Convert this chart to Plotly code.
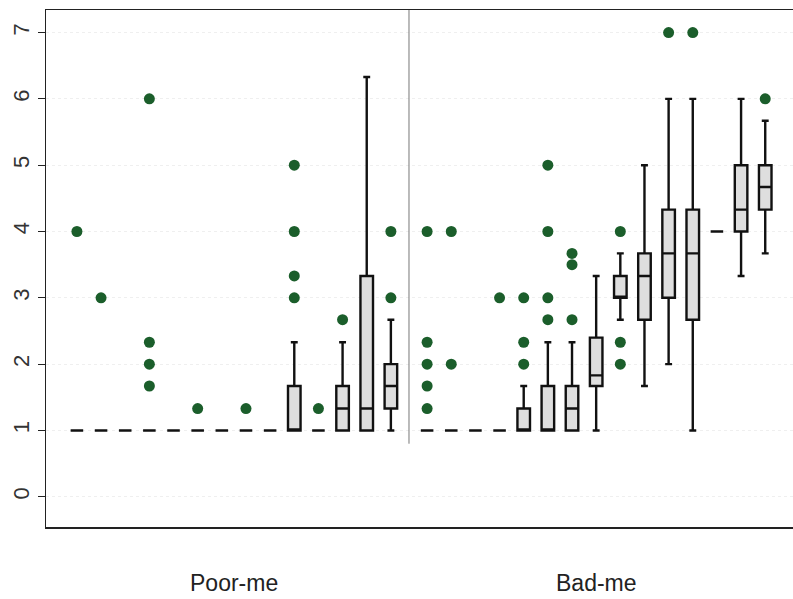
import plotly.graph_objects as go

# ---- data -------------------------------------------------------------
group_labels = ["Poor-me", "Bad-me"]

poor_pos = [1, 2, 3, 4, 5, 6, 7, 8, 9, 10, 11, 12, 13, 14]
poor_q1 = [1, 1, 1, 1, 1, 1, 1, 1, 1, 1, 1, 1, 1, 1.33]
poor_med = [1, 1, 1, 1, 1, 1, 1, 1, 1, 1, 1, 1.33, 1.33, 1.67]
poor_q3 = [1, 1, 1, 1, 1, 1, 1, 1, 1, 1.67, 1, 1.67, 3.33, 2]
poor_lo = [1, 1, 1, 1, 1, 1, 1, 1, 1, 1, 1, 1, 1, 1]
poor_hi = [1, 1, 1, 1, 1, 1, 1, 1, 1, 2.33, 1, 2.33, 6.33, 2.67]
poor_out = [[4], [3], [], [6, 2.33, 2, 1.67], [], [1.33], [], [1.33], [],
            [5, 4, 3.33, 3], [1.33], [2.67], [], [4, 3]]

bad_pos = [15.5, 16.5, 17.5, 18.5, 19.5, 20.5, 21.5, 22.5, 23.5, 24.5,
           25.5, 26.5, 27.5, 28.5, 29.5]
bad_q1 = [1, 1, 1, 1, 1, 1, 1, 1.67, 3, 2.67, 3, 2.67, 4, 4, 4.33]
bad_med = [1, 1, 1, 1, 1, 1, 1.33, 1.83, 3, 3.33, 3.67, 3.67, 4, 4.33, 4.67]
bad_q3 = [1, 1, 1, 1, 1.33, 1.67, 1.67, 2.4, 3.33, 3.67, 4.33, 4.33, 4, 5, 5]
bad_lo = [1, 1, 1, 1, 1, 1, 1, 1, 2.67, 1.67, 2, 1, 4, 3.33, 3.67]
bad_hi = [1, 1, 1, 1, 1.67, 2.33, 2.33, 3.33, 3.67, 5, 6, 6, 4, 6, 5.67]
bad_out = [[4, 2.33, 2, 1.67, 1.33], [4, 2], [], [3], [3, 2.33, 2],
           [5, 4, 3, 2.67], [3.67, 3.5, 2.67], [], [4, 2.33, 2], [],
           [7], [7], [], [], [6]]

y_ticks = [0, 1, 2, 3, 4, 5, 6, 7]

# ---- figure -----------------------------------------------------------
FONT = "Liberation Sans, Arial, sans-serif"
fig = go.Figure()

box_style = dict(
    fillcolor="#dedede",
    line=dict(color="#111111", width=2.4),
    width=0.52,
    whiskerwidth=0.55,
    boxpoints=False,
    showlegend=False,
    hoverinfo="skip",
)

fig.add_trace(go.Box(x=poor_pos, q1=poor_q1, median=poor_med, q3=poor_q3,
                     lowerfence=poor_lo, upperfence=poor_hi, **box_style))
fig.add_trace(go.Box(x=bad_pos, q1=bad_q1, median=bad_med, q3=bad_q3,
                     lowerfence=bad_lo, upperfence=bad_hi, **box_style))

ox, oy = [], []
for pos, outs in zip(poor_pos + bad_pos, poor_out + bad_out):
    for v in outs:
        ox.append(pos)
        oy.append(v)

fig.add_trace(go.Scatter(
    x=ox, y=oy, mode="markers",
    marker=dict(color="#1b5e2b", size=11, line=dict(width=0)),
    showlegend=False, hoverinfo="skip",
))

# divider between the two groups
mid = (poor_pos[-1] + bad_pos[0]) / 2
fig.add_shape(type="line", xref="x", yref="y", x0=mid, x1=mid, y0=0.8, y1=7.34,
              line=dict(color="#777777", width=1))

# group labels
for lab, grp in zip(group_labels, [poor_pos, bad_pos]):
    fig.add_annotation(x=sum(grp) / len(grp), y=-0.108, xref="x", yref="paper",
                       text=lab, showarrow=False, yanchor="middle",
                       font=dict(family=FONT, size=23, color="#222222"))

fig.update_layout(
    width=793, height=599,
    margin=dict(l=46, r=0, t=10, b=72),
    paper_bgcolor="white", plot_bgcolor="white",
    font=dict(family=FONT, color="#222222"),
    boxmode="overlay",
)
fig.update_xaxes(
    range=[-0.28, 30.65], showticklabels=False, ticks="", showgrid=False,
    zeroline=False, showline=True, mirror=True, linecolor="#222222", linewidth=1.5,
    automargin=False,
)
fig.update_yaxes(
    range=[-0.456, 7.34], tickvals=y_ticks, ticktext=[str(t) for t in y_ticks],
    tickangle=-90, ticks="outside", ticklen=7, tickwidth=1.2, tickcolor="#222222",
    tickfont=dict(family=FONT, size=22, color="#333333"),
    showgrid=True, gridcolor="#efefef", griddash="dot", gridwidth=1,
    zeroline=False, showline=True, linecolor="#222222", linewidth=1.5,
    automargin=False,
)

fig.write_html(
    "out.html",
    config={"displayModeBar": False, "staticPlot": True},
    post_script="document.body.style.margin='0';document.body.style.overflow='hidden';",
)
